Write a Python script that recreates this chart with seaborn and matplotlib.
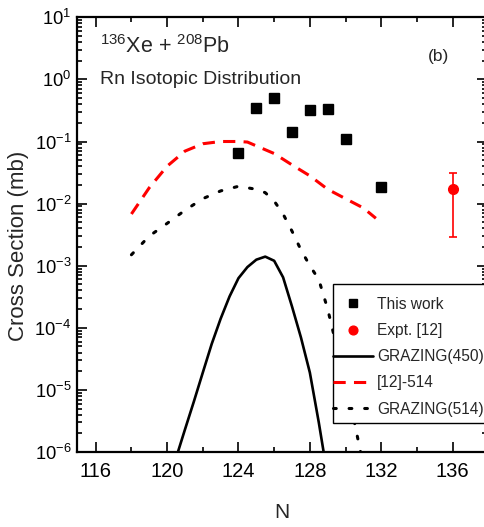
import numpy as np
import pandas as pd
import matplotlib
matplotlib.use("Agg")
import matplotlib.pyplot as plt
import matplotlib.ticker as mticker
from matplotlib.patches import Rectangle
from matplotlib import font_manager as fm
import seaborn as sns

# ---------------- data ----------------
work_N = [124, 125, 126, 127, 128, 129, 130, 132]
work_sigma = [0.066, 0.343, 0.507, 0.144, 0.32, 0.337, 0.111, 0.0187]
work_err = [0.006, 0.03, 0.045, 0.013, 0.028, 0.03, 0.01, 0.0017]

expt_N = [136]
expt_sigma = [0.017]
expt_err_low = [0.0141]
expt_err_high = [0.0138]

graz450_N = [120.5, 121, 121.5, 122, 122.5, 123, 123.5, 124, 124.5, 125, 125.5,
             126, 126.5, 127, 127.5, 128, 128.5, 129]
graz450_sigma = [8e-7, 2.3e-6, 6.5e-6, 1.9e-5, 5.5e-5, 1.4e-4, 3.2e-4, 6.3e-4,
                 9.5e-4, 1.25e-3, 1.4e-3, 1.2e-3, 6.5e-4, 2.2e-4, 7e-5, 1.9e-5,
                 3e-6, 4e-7]

ref514_N = [118, 119, 120, 121, 122, 123, 124, 124.5, 125, 126, 127, 128, 129,
            130, 131, 131.7]
ref514_sigma = [0.0068, 0.018, 0.04, 0.07, 0.092, 0.1, 0.1, 0.098, 0.085, 0.064,
                0.042, 0.028, 0.017, 0.012, 0.0085, 0.0058]

graz514_N = [118, 119, 120, 121, 122, 123, 124, 125, 125.5, 126, 126.5, 127,
             127.5, 128, 128.5, 129, 129.5, 130, 130.5, 131]
graz514_sigma = [0.0015, 0.003, 0.0048, 0.0078, 0.012, 0.016, 0.019, 0.017,
                 0.015, 0.011, 0.0068, 0.0036, 0.0018, 0.001, 0.0006, 0.0002,
                 5e-5, 1.3e-5, 3e-6, 6e-7]

legend_labels = ["This work", "Expt. [12]", "GRAZING(450)", "[12]-514", "GRAZING(514)"]
x_ticks = [116, 120, 124, 128, 132, 136]

# ---------------- fonts ----------------
sns.set_theme(style="ticks")


def have(name):
    try:
        fm.findfont(fm.FontProperties(family=name), fallback_to_default=False)
        return True
    except Exception:
        return False


base = "Liberation Sans" if have("Liberation Sans") else "DejaVu Sans"
plt.rcParams["font.family"] = [base, "DejaVu Sans"]
plt.rcParams["mathtext.fontset"] = "custom"
plt.rcParams["mathtext.rm"] = base
plt.rcParams["mathtext.it"] = base
plt.rcParams["mathtext.bf"] = base

fig = plt.figure(figsize=(4.84, 5.27), dpi=100)
ax = fig.add_axes([77 / 484, 75 / 527, 409.5 / 484, 434.7 / 527])
ax.set_facecolor("white")

# curves
d450 = pd.DataFrame({"N": graz450_N, "s": graz450_sigma})
d_ref = pd.DataFrame({"N": ref514_N, "s": ref514_sigma})
d514 = pd.DataFrame({"N": graz514_N, "s": graz514_sigma})

sns.lineplot(data=d450, x="N", y="s", ax=ax, color="black", lw=1.9,
             estimator=None, sort=False, label=legend_labels[2])
sns.lineplot(data=d_ref, x="N", y="s", ax=ax, color="#ff0000", lw=2.2,
             estimator=None, sort=False, label=legend_labels[3])
sns.lineplot(data=d514, x="N", y="s", ax=ax, color="black", lw=2.2,
             estimator=None, sort=False, label=legend_labels[4])
lines = ax.get_lines()
lines[1].set_linestyle((0, (4, 2.7)))
lines[2].set_linestyle((0, (0.9, 4.2)))
lines[2].set_dash_capstyle("round")

# points
eb1 = ax.errorbar(work_N, work_sigma, yerr=work_err, fmt="s", color="black",
                  ms=6.5, capsize=2, elinewidth=1, capthick=1, zorder=5)
eb2 = ax.errorbar(expt_N, expt_sigma, yerr=[expt_err_low, expt_err_high], fmt="o",
                  color="#ff0000", ms=7, capsize=2.8, elinewidth=1.2, capthick=1.2,
                  zorder=5)

ax.set_yscale("log")
ax.set_ylim(1e-6, 10)
ax.set_xlim(114.95, 137.9)
ax.xaxis.set_major_locator(mticker.FixedLocator(x_ticks))
ax.xaxis.set_minor_locator(mticker.MultipleLocator(2))
ax.yaxis.set_major_locator(mticker.LogLocator(base=10, numticks=20))
ax.yaxis.set_minor_locator(mticker.LogLocator(base=10, subs=np.arange(2, 10), numticks=20))
ax.yaxis.set_minor_formatter(mticker.NullFormatter())
ax.yaxis.set_major_formatter(mticker.FuncFormatter(
    lambda v, p: r"$\mathregular{10^{%d}}$" % int(round(np.log10(v)))))

ax.tick_params(which="both", direction="in", top=True, right=True, width=1.2,
               colors="black")
ax.tick_params(which="major", length=7, labelsize=14.5, pad=7)
ax.tick_params(which="minor", length=3.5)
ax.tick_params(axis="y", which="major", pad=4, labelsize=13.2)
for sp in ax.spines.values():
    sp.set_linewidth(1.6)
    sp.set_color("black")
    sp.set_visible(True)

ax.set_xlabel("N", fontsize=15, labelpad=16)
ax.set_ylabel("Cross Section (mb)", fontsize=16)
ax.yaxis.set_label_coords(-0.118, 0.475)

ax.text(0.056, 0.917, r"$^{136}$Xe + $^{208}$Pb", transform=ax.transAxes,
        fontsize=15.5, va="baseline", ha="left")
ax.text(0.056, 0.846, "Rn Isotopic Distribution", transform=ax.transAxes,
        fontsize=14, va="baseline", ha="left")
ax.text(0.858, 0.900, "(b)", transform=ax.transAxes, fontsize=12.5,
        va="baseline", ha="left")

# legend box
ax.add_patch(Rectangle((0.625, 0.0667), 0.5, 0.3198, transform=ax.transAxes,
                       facecolor="white", edgecolor="black", lw=1.0,
                       zorder=6, clip_on=False))

handles, labels = ax.get_legend_handles_labels()
hmap = dict(zip(labels, handles))
leg_handles = [eb1.lines[0], eb2.lines[0], hmap[legend_labels[2]],
               hmap[legend_labels[3]], hmap[legend_labels[4]]]
leg = ax.legend(leg_handles, legend_labels,
                loc="upper left", bbox_to_anchor=(0.626, 0.357),
                borderaxespad=0, fontsize=11.2, frameon=False,
                handlelength=2.55, handletextpad=0.27, labelspacing=0.72,
                borderpad=0.0, markerscale=0.9)
leg.set_zorder(7)

fig.savefig("out.png", dpi=100, facecolor="white")
